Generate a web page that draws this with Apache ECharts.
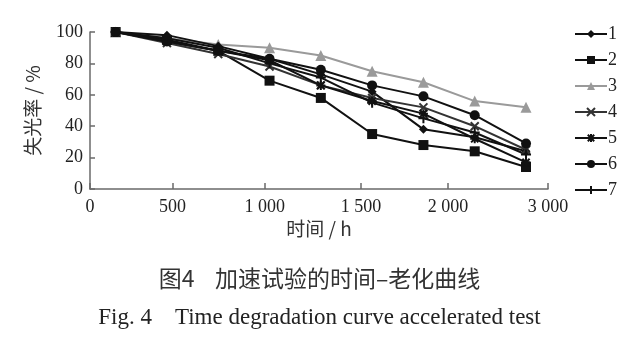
<!DOCTYPE html>
<html>
<head>
<meta charset="utf-8">
<script src="https://cdn.jsdelivr.net/npm/echarts@6/dist/echarts.min.js"></script>
<style>
  html, body { margin: 0; padding: 0; background: #fff; }
  #chart { width: 639px; height: 339px; }
</style>
</head>
<body>
<div id="chart"></div>
<script>
// Aging time of the accelerated test, hours
const hours = [168, 504, 840, 1176, 1512, 1848, 2184, 2520, 2856];

// Light-loss rate (%) of samples 1-7
const s1 = [100, 98, 91, 83, 73, 62, 38, 33, 24];
const s2 = [100, 95, 88, 69, 58, 35, 28, 24, 14];
const s3 = [100, 96, 92, 90, 85, 75, 68, 56, 52];
const s4 = [100, 93, 86, 78, 66, 58, 52, 40, 25];
const s5 = [100, 94, 88, 82, 66, 56, 48, 32, 17];
const s6 = [100, 94, 88, 83, 76, 66, 59, 47, 29];
const s7 = [100, 96, 90, 80, 71, 55, 45, 36, 22];

const seriesNames = ['1', '2', '3', '4', '5', '6', '7'];
const xTickLabels = ['0', '500', '1 000', '1 500', '2 000', '3 000'];
const yTickLabels = ['0', '20', '40', '60', '80', '100'];

const SERIF = '"Liberation Serif", "DejaVu Serif", serif';
const CJK = '"Noto Sans CJK SC", sans-serif';

// tick marks sit where the printed scale places them along the hour axis
const xTickValues = [0, 540, 1145, 1775, 2345, 3000];

const crossPath = 'path://M0,0L10,10M10,0L0,10';
const plusPath = 'path://M5,0L5,10M0,5L10,5';
const asteriskPath = 'path://M1,1L9,9M9,1L1,9M5,0L5,10M0,5L10,5';

const styles = [
  { color: '#111', symbol: 'diamond', size: 9 },
  { color: '#111', symbol: 'rect', size: 10 },
  { color: '#9a9a9a', symbol: 'triangle', size: 11 },
  { color: '#333', symbol: crossPath, size: 8, stroke: true },
  { color: '#111', symbol: asteriskPath, size: 9, stroke: true },
  { color: '#111', symbol: 'circle', size: 10 },
  { color: '#111', symbol: plusPath, size: 10, stroke: true }
];

const values = [s1, s2, s3, s4, s5, s6, s7];

const series = values.map((vals, i) => {
  const st = styles[i];
  return {
    name: seriesNames[i],
    type: 'line',
    data: hours.map((h, k) => [h, vals[k]]),
    symbol: st.symbol,
    symbolSize: st.size,
    showAllSymbol: true,
    lineStyle: { color: st.color, width: 2 },
    itemStyle: st.stroke
      ? { color: st.color, borderColor: st.color, borderWidth: 2 }
      : { color: st.color, borderWidth: 0 },
    emphasis: { disabled: true },
    animation: false,
    z: i === 2 ? 1 : 2
  };
});

const chart = echarts.init(document.getElementById('chart'), null, { renderer: 'canvas' });

chart.setOption({
  backgroundColor: '#fff',
  animation: false,
  grid: { left: 90, right: 91, top: 32, bottom: 150 },
  legend: {
    orient: 'vertical',
    left: 569,
    top: 20,
    itemWidth: 32,
    itemHeight: 10,
    itemGap: 8,
    data: seriesNames,
    textStyle: { fontFamily: SERIF, fontSize: 18, color: '#222', padding: [0, 0, 0, -4] }
  },
  xAxis: {
    type: 'value',
    min: 0,
    max: 3000,
    name: '时间 / h',
    nameLocation: 'middle',
    nameGap: 30,
    nameTextStyle: { fontFamily: CJK, fontSize: 19, color: '#333' },
    axisLine: { show: true, lineStyle: { color: '#6a6a6a', width: 1.5 } },
    axisTick: { show: true, inside: true, length: 6, customValues: xTickValues,
                lineStyle: { color: '#6a6a6a', width: 1.5 } },
    axisLabel: {
      customValues: xTickValues,
      formatter: (v) => {
        const idx = xTickValues.indexOf(v);
        return idx >= 0 ? xTickLabels[idx] : '';
      },
      fontFamily: SERIF, fontSize: 18, color: '#222', margin: 9
    },
    splitLine: { show: false }
  },
  yAxis: {
    type: 'value',
    min: 0,
    max: 100,
    interval: 20,
    name: '失光率 / %',
    nameLocation: 'middle',
    nameRotate: 90,
    nameGap: 48,
    nameTextStyle: { fontFamily: CJK, fontSize: 19, color: '#333' },
    axisLine: { show: true, lineStyle: { color: '#6a6a6a', width: 1.5 } },
    axisTick: { show: true, inside: true, length: 5, lineStyle: { color: '#6a6a6a', width: 1.5 } },
    axisLabel: {
      formatter: (v) => yTickLabels[Math.round(v / 20)],
      fontFamily: SERIF, fontSize: 18, color: '#222', margin: 7
    },
    splitLine: { show: false }
  },
  graphic: [
    {
      type: 'text',
      left: 'center',
      top: 267,
      style: { text: '图4    加速试验的时间–老化曲线', font: '23px "Noto Sans CJK SC", sans-serif', fill: '#333' }
    },
    {
      type: 'text',
      left: 'center',
      top: 306,
      style: { text: 'Fig. 4    Time degradation curve accelerated test', font: '23px "Liberation Serif", serif', fill: '#222' }
    }
  ],
  series: series
});
</script>
</body>
</html>
